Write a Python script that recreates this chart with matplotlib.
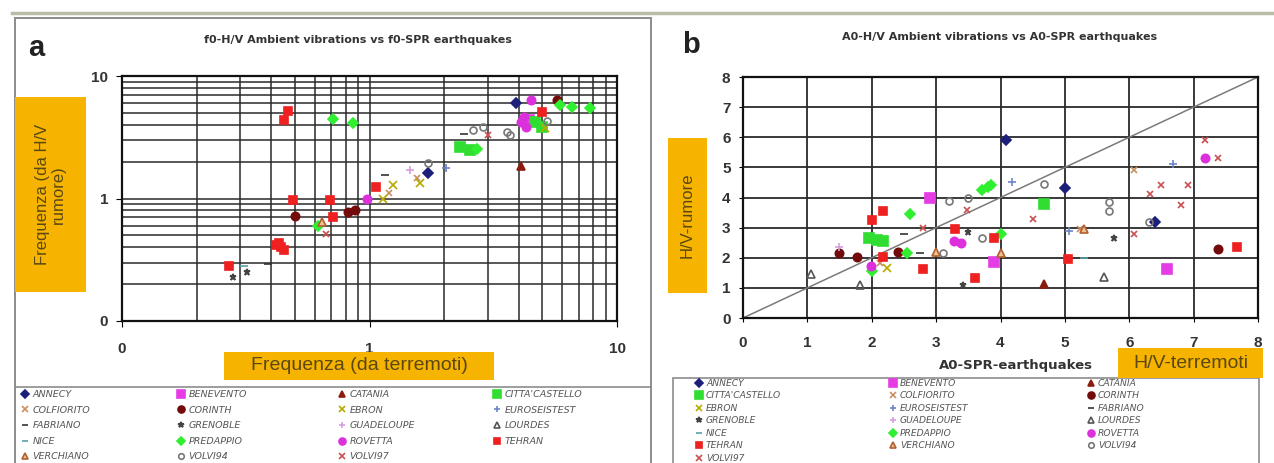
import matplotlib
matplotlib.use("Agg")
import matplotlib.pyplot as plt
from matplotlib.patches import Rectangle
from matplotlib.lines import Line2D
from matplotlib.ticker import FixedLocator, LogLocator, NullFormatter

W, H = 1274, 463
plt.rcParams['font.family'] = ['Liberation Sans', 'DejaVu Sans']

# ---- data: panel a, f0 (log-log) ----
a_site = (["TEHRAN"] * 12 + ["PREDAPPIO"] * 7 + ["CORINTH"] * 4 + ["VERCHIANO"]
          + ["VOLVI97"] * 2 + ["NICE"] + ["GRENOBLE"] * 2 + ["FABRIANO"] * 3
          + ["ROVETTA"] * 5 + ["EBRON"] * 4 + ["COLFIORITO"] * 2 + ["GUADELOUPE"]
          + ["ANNECY"] * 2 + ["EUROSEISTEST"] + ["VOLVI94"] * 6
          + ["CITTA'CASTELLO"] * 4 + ["CATANIA"] + ["BENEVENTO"])
a_eq = [0.47, 0.45, 0.49, 0.69, 0.71, 0.44, 0.43, 0.45, 0.42, 0.27, 1.06, 5.0,
        0.71, 0.86, 0.62, 2.72, 5.9, 6.6, 7.8,
        0.50, 0.82, 0.87, 5.7,
        0.64,
        0.67, 3.0,
        0.31,
        0.32, 0.28,
        0.39, 1.15, 2.4,
        0.98, 4.2, 4.3, 4.1, 4.5,
        1.13, 1.25, 1.60, 5.1,
        1.55, 1.2,
        1.46,
        1.72, 3.9,
        2.04,
        1.72, 2.62, 2.87, 3.6, 3.7, 5.2,
        2.32, 2.55, 4.65, 5.0,
        4.1,
        4.4]
a_hv = [5.2, 4.4, 0.97, 0.97, 0.71, 0.40, 0.43, 0.38, 0.42, 0.28, 1.24, 5.1,
        4.45, 4.13, 0.60, 2.55, 5.8, 5.6, 5.5,
        0.72, 0.78, 0.80, 6.4,
        0.64,
        0.51, 3.3,
        0.28,
        0.25, 0.23,
        0.29, 1.55, 3.37,
        1.0, 4.6, 3.8, 4.2, 6.4,
        1.0, 1.29, 1.34, 3.75,
        1.47, 1.1,
        1.71,
        1.62, 6.0,
        1.77,
        1.94, 3.63, 3.8, 3.5, 3.3, 4.3,
        2.63, 2.49, 4.2, 3.8,
        1.84,
        4.4]

# ---- data: panel b, A0 (linear) ----
b_site = (["BENEVENTO"] * 3 + ["VOLVI94"] * 8 + ["VOLVI97"] * 10 + ["TEHRAN"] * 9
          + ["PREDAPPIO"] * 7 + ["CITTA'CASTELLO"] * 4 + ["FABRIANO"] * 2
          + ["GRENOBLE"] * 3 + ["CORINTH"] * 4 + ["GUADELOUPE"] + ["VERCHIANO"] * 3
          + ["ROVETTA"] * 4 + ["EBRON"] + ["COLFIORITO"] * 3 + ["LOURDES"] * 3
          + ["ANNECY"] * 3 + ["EUROSEISTEST"] * 3 + ["NICE"] + ["CATANIA"])
b_eq = [2.9, 3.9, 6.58,
        3.2, 3.5, 3.72, 3.1, 4.68, 5.68, 5.68, 6.3,
        3.48, 2.8, 4.5, 6.08, 6.32, 6.5, 6.92, 6.8, 7.18, 7.38,
        2.17, 2.0, 3.3, 3.9, 2.17, 2.8, 3.6, 5.05, 7.67,
        2.6, 3.72, 3.8, 3.85, 2.55, 2.0, 4.0,
        1.95, 2.08, 2.18, 4.68,
        2.5, 2.75,
        3.5, 3.42, 5.76,
        1.49, 1.77, 2.4, 7.38,
        1.49,
        3.0, 4.0, 5.3,
        1.99, 3.28, 3.38, 7.18,
        2.24,
        2.13, 5.23, 6.08,
        1.81, 1.05, 5.6,
        4.08, 5.0, 6.4,
        4.18, 5.07, 6.68,
        5.3,
        4.68]
b_hv = [4.0, 1.85, 1.62,
        3.9, 4.0, 2.65, 2.17, 4.45, 3.85, 3.55, 3.2,
        3.6, 3.0, 3.3, 2.8, 4.1, 4.4, 4.4, 3.75, 5.9, 5.3,
        3.55, 3.25, 2.95, 2.65, 2.03, 1.63, 1.33, 1.95, 2.35,
        3.45, 4.25, 4.35, 4.4, 2.15, 1.55, 2.8,
        2.65, 2.6, 2.55, 3.78,
        2.8, 2.15,
        2.85, 1.08, 2.65,
        2.17, 2.03, 2.2, 2.28,
        2.35,
        2.2, 2.15, 2.95,
        1.72, 2.55, 2.5, 5.3,
        1.67,
        1.83, 2.95, 4.9,
        1.1, 1.45, 1.35,
        5.9, 4.3, 3.2,
        4.5, 2.9, 5.1,
        2.0,
        1.12]

sites = ["ANNECY", "BENEVENTO", "CATANIA", "CITTA'CASTELLO", "COLFIORITO",
         "CORINTH", "EBRON", "EUROSEISTEST", "FABRIANO", "GRENOBLE",
         "GUADELOUPE", "LOURDES", "NICE", "PREDAPPIO", "ROVETTA", "TEHRAN",
         "VERCHIANO", "VOLVI94", "VOLVI97"]

# marker, face colour, edge colour, size
style = {
    "ANNECY": ("D", "#1b1f7a", "#1b1f7a", 5),
    "BENEVENTO": ("s", "#e63ce6", "#e63ce6", 7),
    "CATANIA": ("^", "#8b1c10", "#8b1c10", 6),
    "CITTA'CASTELLO": ("s", "#30dd30", "#30dd30", 7),
    "COLFIORITO": ("x", "#c89060", "#c89060", 5),
    "CORINTH": ("o", "#730b0b", "#730b0b", 6),
    "EBRON": ("x", "#b8a800", "#b8a800", 6),
    "EUROSEISTEST": ("+", "#6a85c8", "#6a85c8", 6),
    "FABRIANO": ("_", "#333333", "#333333", 6),
    "GRENOBLE": ("*", "#444444", "#444444", 5),
    "GUADELOUPE": ("+", "#d4a0e0", "#d4a0e0", 6),
    "LOURDES": ("^", "none", "#555555", 6),
    "NICE": ("_", "#58a0a8", "#58a0a8", 6),
    "PREDAPPIO": ("D", "#30ee30", "#30ee30", 5),
    "ROVETTA": ("o", "#dd30dd", "#dd30dd", 6),
    "TEHRAN": ("s", "#ee2020", "#ee2020", 6),
    "VERCHIANO": ("^", "#f0c090", "#b06030", 6),
    "VOLVI94": ("o", "none", "#777777", 5),
    "VOLVI97": ("x", "#c85050", "#c85050", 5),
}

fig = plt.figure(figsize=(W / 100, H / 100), dpi=100)


def rect(x0, y0, x1, y1):
    return [x0 / W, 1 - y1 / H, (x1 - x0) / W, (y1 - y0) / H]


def scatter_sites(ax, site_list, xs, ys):
    for s in sites:
        px = [x for n, x in zip(site_list, xs) if n == s]
        py = [y for n, y in zip(site_list, ys) if n == s]
        if not px:
            continue
        m, fc, ec, ms = style[s]
        ax.plot(px, py, linestyle="none", marker=m, markersize=ms,
                markerfacecolor=fc, markeredgecolor=ec, markeredgewidth=1.2,
                zorder=3)


def handle(s):
    m, fc, ec, ms = style[s]
    return Line2D([], [], linestyle="none", marker=m, markersize=ms - 1,
                  markerfacecolor=fc, markeredgecolor=ec, markeredgewidth=1.2)


def orange_box(x0, y0, x1, y1, txt, rot=0, size=11):
    fig.patches.append(Rectangle((x0 / W, 1 - y1 / H), (x1 - x0) / W,
                                 (y1 - y0) / H, transform=fig.transFigure,
                                 facecolor="#f6b400", edgecolor="none",
                                 zorder=5))
    fig.text((x0 + x1) / 2 / W, 1 - (y0 + y1) / 2 / H, txt, rotation=rot,
             ha="center", va="center", fontsize=size, color="#5a4810",
             zorder=6, multialignment="center", linespacing=1.05)


# frames
fig.lines.append(Line2D([12 / W, 1], [1 - 13 / H, 1 - 13 / H],
                        transform=fig.transFigure, color="#b9bda6", lw=2.5))
fig.patches.append(Rectangle((15 / W, -0.02), (651 - 15) / W, 1 - 18 / H + 0.02,
                             transform=fig.transFigure, facecolor="none",
                             edgecolor="#8c8c8c", lw=1.4))
fig.lines.append(Line2D([15 / W, 651 / W], [1 - 387 / H, 1 - 387 / H],
                        transform=fig.transFigure, color="#8c8c8c", lw=1.2))
fig.patches.append(Rectangle((673 / W, -0.02), (1259 - 673) / W, 1 - 378 / H + 0.02,
                             transform=fig.transFigure, facecolor="none",
                             edgecolor="#8c8c8c", lw=1.2))

# ---- panel a ----
axa = fig.add_axes(rect(122, 76, 617, 321))
axa.set_xscale("log")
axa.set_yscale("log")
axa.set_xlim(0.1, 10)
axa.set_ylim(0.1, 10)
scatter_sites(axa, a_site, a_eq, a_hv)
for axis in (axa.xaxis, axa.yaxis):
    axis.set_major_locator(FixedLocator([0.1, 1, 10]))
    axis.set_minor_locator(LogLocator(base=10, subs=range(2, 10)))
    axis.set_minor_formatter(NullFormatter())
axa.set_xticklabels(["0", "1", "10"])
axa.set_yticklabels(["0", "1", "10"])
axa.grid(True, which="both", color="#2a2a2a", lw=1.1)
axa.tick_params(which="minor", length=0)
axa.tick_params(which="major", length=4, labelsize=11, labelcolor="#333333",
                pad=6)
axa.tick_params(axis="x", which="major", pad=11)
for lab in axa.get_xticklabels() + axa.get_yticklabels():
    lab.set_fontweight("bold")
for sp in axa.spines.values():
    sp.set_linewidth(1.6)
    sp.set_color("#111111")
axa.set_axisbelow(True)

fig.text(358 / W, 1 - 40 / H, "f0-H/V Ambient vibrations vs f0-SPR earthquakes",
         ha="center", va="center", fontsize=8, fontweight="bold",
         color="#333333", family="DejaVu Sans")
fig.text(28 / W, 1 - 48 / H, "a", ha="left", va="center", fontsize=21,
         fontweight="bold", color="#222222")
orange_box(15, 97, 86, 292, "Frequenza (da H/V\nrumore)", rot=90, size=12)
orange_box(224, 352, 494, 380, "Frequenza (da terremoti)", size=14)

# ---- panel b ----
axb = fig.add_axes(rect(743, 77, 1258, 318))
axb.set_xlim(0, 8)
axb.set_ylim(0, 8)
axb.plot([0, 8], [0, 8], color="#7a7a7a", lw=1.1, zorder=2)
scatter_sites(axb, b_site, b_eq, b_hv)
axb.set_xticks(range(0, 9))
axb.set_yticks(range(0, 9))
axb.grid(True, color="#2a2a2a", lw=1.3)
axb.tick_params(length=3, labelsize=11, labelcolor="#333333", pad=6)
axb.tick_params(axis="x", pad=10)
for lab in axb.get_xticklabels() + axb.get_yticklabels():
    lab.set_fontweight("bold")
for sp in axb.spines.values():
    sp.set_linewidth(1.6)
    sp.set_color("#111111")
axb.set_axisbelow(True)

fig.text(1000 / W, 1 - 37 / H, "A0-H/V Ambient vibrations vs A0-SPR earthquakes",
         ha="center", va="center", fontsize=8, fontweight="bold",
         color="#333333", family="DejaVu Sans")
fig.text(682 / W, 1 - 45 / H, "b", ha="left", va="center", fontsize=21,
         fontweight="bold", color="#222222")
fig.text(1016 / W, 1 - 366 / H, "A0-SPR-earthquakes", ha="center", va="center",
         fontsize=9.5, fontweight="bold", color="#333333", family="DejaVu Sans")
orange_box(668, 138, 707, 293, "H/V-rumore", rot=90, size=12)
orange_box(1118, 348, 1263, 378, "H/V-terremoti", size=14)


# ---- legends (row-major, one legend per column) ----
def column_legends(ncol, col_x, top_y, row_h, size):
    for c in range(ncol):
        names = sites[c::ncol]
        leg = fig.legend([handle(s) for s in names], names,
                         loc="upper left",
                         bbox_to_anchor=(col_x[c] / W, 1 - top_y / H),
                         frameon=False, borderaxespad=0, borderpad=0,
                         handlelength=0.8, handletextpad=0.4,
                         labelspacing=row_h,
                         prop={"size": size, "style": "italic",
                               "family": "DejaVu Sans"})
        for t in leg.get_texts():
            t.set_color("#555555")


column_legends(4, [21, 177, 338, 493], 390, 0.7, 6.8)
column_legends(3, [695, 889, 1087], 379, 0.38, 6.6)

fig.savefig("out.png", dpi=100)
